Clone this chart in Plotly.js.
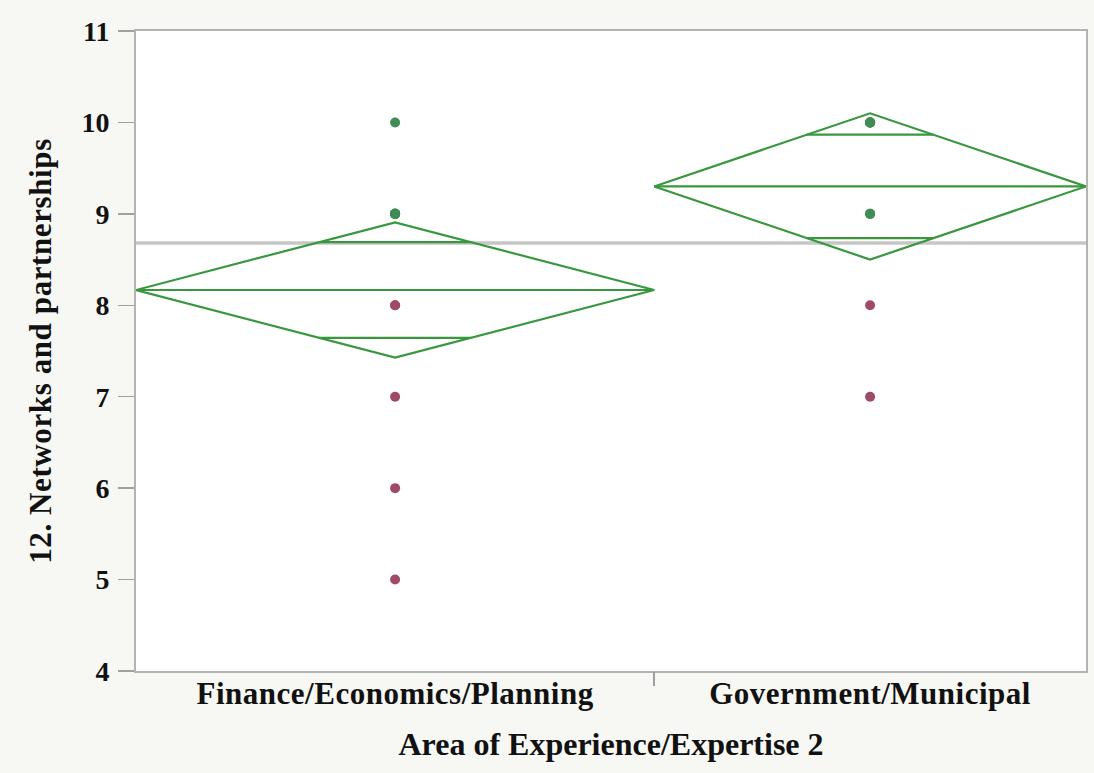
<!DOCTYPE html>
<html>
<head>
<meta charset="utf-8">
<script src="https://cdn.plot.ly/plotly-3.0.1.min.js"></script>
<style>
  html, body { margin: 0; padding: 0; background: #f7f7f3; }
  #chart { width: 1094px; height: 773px; }
  /* slightly looser tracking for the axis texts */
  #chart .xtick text { letter-spacing: 0.5px; }
  #chart .ytitle { letter-spacing: 0.6px; }
</style>
</head>
<body>
<div id="chart"></div>
<script>
// Oneway analysis: networks & partnerships score by area of experience
const groups = ["Finance/Economics/Planning", "Government/Municipal"];
const groupSizes = [12, 10];

// Individual responses per group
const financeScores = [10, 9, 9, 9, 9, 9, 9, 8, 8, 7, 6, 5];
const governmentScores = [10, 10, 10, 10, 10, 10, 9, 9, 8, 7];

// Group means and 95% confidence half-widths of the mean diamonds
const groupMeans = [8.167, 9.30];
const ciHalfWidths = [0.74, 0.80];
const grandMean = 8.68;

const yTicks = [4, 5, 6, 7, 8, 9, 10, 11];

const diamondColor = "#38973f";
const highColor = "#3f8c55";
const lowColor = "#a04a6a";

// Group extents on the x axis are proportional to group size
const starts = [];
let acc = 0;
groupSizes.forEach(n => { starts.push(acc); acc += n; });
const total = acc;
const centers = groupSizes.map((n, i) => starts[i] + n / 2);

const traces = [];

// Grand mean reference line
traces.push({
  x: [0, total], y: [grandMean, grandMean],
  mode: "lines", line: { color: "#c6c6c6", width: 3.5 },
  hoverinfo: "skip", showlegend: false
});

// Mean diamonds, mean lines and overlap marks
groupSizes.forEach((n, i) => {
  const x0 = starts[i], x1 = starts[i] + n, xc = centers[i];
  const m = groupMeans[i], h = ciHalfWidths[i];
  const line = { color: diamondColor, width: 2.2 };
  traces.push({
    x: [x0, xc, x1, xc, x0], y: [m, m + h, m, m - h, m],
    mode: "lines", line: line, hoverinfo: "skip", showlegend: false
  });
  traces.push({
    x: [x0, x1], y: [m, m],
    mode: "lines", line: line, hoverinfo: "skip", showlegend: false
  });
  const off = h / Math.SQRT2;
  const dx = (n / 2) * (1 - 1 / Math.SQRT2);
  [m + off, m - off].forEach(yv => {
    traces.push({
      x: [xc - dx, xc + dx], y: [yv, yv],
      mode: "lines", line: line, hoverinfo: "skip", showlegend: false
    });
  });
});

// Response points, coloured by whether they sit above the grand mean
[financeScores, governmentScores].forEach((scores, i) => {
  traces.push({
    x: scores.map(() => centers[i]), y: scores,
    mode: "markers",
    marker: { size: 10, color: scores.map(v => v > grandMean ? highColor : lowColor) },
    showlegend: false, hoverinfo: "y"
  });
});

// Invisible trace carrying the tick between groups
traces.push({ x: [0], y: [4], xaxis: "x2", mode: "markers", marker: { opacity: 0 }, hoverinfo: "skip", showlegend: false });

const serif = "Liberation Serif, Times New Roman, serif";
const xTickFont = { family: serif, size: 31, color: "#111", weight: 700 };
const yTickFont = { family: serif, size: 28, color: "#111", weight: 700 };
const xTitleFont = { family: serif, size: 32, color: "#111", weight: 700 };
const yTitleFont = { family: serif, size: 31, color: "#111", weight: 700 };

const layout = {
  width: 1094, height: 773,
  paper_bgcolor: "#f7f7f3", plot_bgcolor: "#ffffff",
  margin: { l: 136, r: 8, t: 31, b: 102 },
  xaxis: {
    range: [0, total], tickvals: centers, ticktext: groups,
    ticks: "", showgrid: false, zeroline: false,
    showline: true, mirror: true, linecolor: "#b3b3b3", linewidth: 2,
    tickfont: xTickFont, ticklabelstandoff: -6,
    title: { text: "Area of Experience/Expertise 2", font: xTitleFont, standoff: 22 }
  },
  xaxis2: {
    overlaying: "x", range: [0, total], tickvals: [starts[1]],
    ticks: "outside", ticklen: 14, tickcolor: "#a0a0a0", tickwidth: 2,
    showticklabels: false, showgrid: false, zeroline: false, showline: false
  },
  yaxis: {
    range: [4, 11], tickvals: yTicks,
    ticks: "outside", ticklen: 16, tickcolor: "#a0a0a0", tickwidth: 1.5,
    showgrid: false, zeroline: false,
    showline: true, mirror: true, linecolor: "#b3b3b3", linewidth: 2,
    tickfont: yTickFont, ticklabelstandoff: 3,
    title: { text: "12. Networks and partnerships", font: yTitleFont, standoff: 21 }
  }
};

Plotly.newPlot("chart", traces, layout, { displayModeBar: false, staticPlot: true });
</script>
</body>
</html>
